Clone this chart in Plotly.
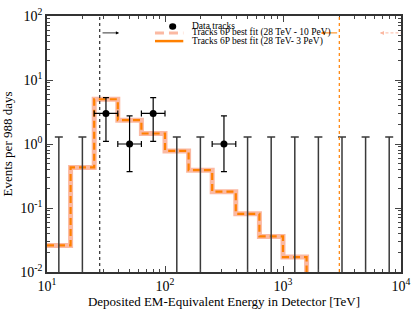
import math
import plotly.graph_objects as go

# histogram bin edges (log bins of 0.2 decade) and expected events per bin
bin_edges = [10, 15.85, 25.12, 39.81, 63.1, 100, 158.5, 251.2, 398.1, 631, 1000, 1585, 2512]
fit_10pev = [0.026, 0.43, 5.0, 2.36, 1.46, 0.78, 0.39, 0.18, 0.081, 0.036, 0.0171, 0.0075]
fit_3pev = [0.026, 0.43, 5.0, 2.36, 1.46, 0.78, 0.39, 0.18, 0.081, 0.036, 0.0171, 0.0070]

# observed data tracks
data_x = [31.6, 50.1, 79.4, 316]
data_xlo = [25.1, 39.8, 63.1, 251]
data_xhi = [39.8, 63.1, 100, 398]
data_y = [3, 1, 3, 1]
data_ylo = [1.1, 0.37, 1.1, 0.37]
data_yhi = [5.3, 2.75, 5.3, 2.75]

# upper limits in empty bins
ul_x = [12.6, 19.95, 125.9, 199.5, 501, 794, 1259, 1995, 3162, 5012, 7943]
ul_y = [1.29] * len(ul_x)

# energy thresholds
e_low = 28
e_cut = 3000

# tick labels
x_ticks = [10, 100, 1000, 10000]
x_ticktext = ['10<sup>1</sup>', '10<sup>2</sup>', '10<sup>3</sup>', '10<sup>4</sup>']
y_ticks = [0.01, 0.1, 1, 10, 100]
y_ticktext = ['10<sup>-2</sup>', '10<sup>-1</sup>', '10<sup>0</sup>', '10<sup>1</sup>', '10<sup>2</sup>']

serif = 'Liberation Serif'
fig = go.Figure()

def steps(vals):
    return bin_edges, vals + [vals[-1]]

sx, sy = steps(fit_10pev)
fig.add_trace(go.Scatter(x=sx, y=sy, mode='lines', line_shape='hv',
                         line=dict(color='#fbb9a2', width=5), showlegend=False))
sx, sy = steps(fit_3pev)
fig.add_trace(go.Scatter(x=sx, y=sy, mode='lines', line_shape='hv',
                         line=dict(color='#ff8000', width=2.2, dash='7px,4px'), showlegend=False))

# upper limits
fig.add_trace(go.Scatter(
    x=ul_x, y=ul_y, mode='markers', marker=dict(size=1, color='rgba(0,0,0,0)'),
    error_y=dict(type='data', symmetric=False, array=[0] * len(ul_x),
                 arrayminus=[v - 1e-4 for v in ul_y], color='#3a3a3a', thickness=1.5, width=4),
    showlegend=False))

# data points
fig.add_trace(go.Scatter(
    x=data_x, y=data_y, mode='markers', marker=dict(size=7, color='black'),
    error_x=dict(type='data', symmetric=False,
                 array=[h - x for h, x in zip(data_xhi, data_x)],
                 arrayminus=[x - l for l, x in zip(data_xlo, data_x)],
                 color='black', thickness=1.2, width=3),
    error_y=dict(type='data', symmetric=False,
                 array=[h - y for h, y in zip(data_yhi, data_y)],
                 arrayminus=[y - l for l, y in zip(data_ylo, data_y)],
                 color='black', thickness=1.2, width=3),
    showlegend=False))

# threshold lines
fig.add_shape(type='line', x0=e_low, x1=e_low, y0=0, y1=1, xref='x', yref='paper',
              line=dict(color='black', width=1, dash='dot'))
fig.add_shape(type='line', x0=e_cut, x1=e_cut, y0=0, y1=1, xref='x', yref='paper',
              line=dict(color='#ff8000', width=1.2, dash='dot'))

arrow_y = 0.934
fig.add_annotation(x=math.log10(40.8), y=arrow_y, xref='x', yref='paper', ax=-18, ay=0,
                   text='', showarrow=True, arrowhead=2, arrowsize=0.8, arrowwidth=0.8,
                   arrowcolor='black')
fig.add_annotation(x=math.log10(2085), y=arrow_y, xref='x', yref='paper', ax=18, ay=0,
                   text='', showarrow=True, arrowhead=2, arrowsize=0.8, arrowwidth=1,
                   arrowcolor='#ff8000')
fig.add_shape(type='line', x0=6700, x1=10000, y0=arrow_y, y1=arrow_y, xref='x', yref='paper',
              line=dict(color='#fbb9a2', width=1, dash='3px,2px'))
fig.add_annotation(x=math.log10(6640), y=arrow_y, xref='x', yref='paper', ax=5, ay=0,
                   text='', showarrow=True, arrowhead=2, arrowsize=0.8, arrowwidth=1,
                   arrowcolor='#fbb9a2')

# hand-made compact legend
fig.add_shape(type='circle', xref='paper', yref='paper', x0=0.345, x1=0.365, y0=0.946, y1=0.972,
              fillcolor='black', line=dict(width=0))
fig.add_shape(type='line', xref='paper', yref='paper', x0=0.305, x1=0.385, y0=0.934, y1=0.934,
              line=dict(color='#fbb9a2', width=3, dash='9px,5px'))
fig.add_shape(type='line', xref='paper', yref='paper', x0=0.305, x1=0.385, y0=0.902, y1=0.902,
              line=dict(color='#ff8000', width=2.5))
legend_txt = ['Data tracks', 'Tracks 6P best fit (28 TeV - 10 PeV)', 'Tracks 6P best fit (28 TeV- 3 PeV)']
for i, t in enumerate(legend_txt):
    fig.add_annotation(x=0.405, y=[0.962, 0.934, 0.902][i], xref='paper', yref='paper',
                       text=t, showarrow=False, xanchor='left', yanchor='middle',
                       font=dict(size=9.5, color='black', family=serif))

axis_common = dict(type='log', showgrid=False, automargin=False,
                   ticks='inside', ticklen=6, tickwidth=1, mirror='allticks',
                   showline=True, linecolor='#333', linewidth=1.5, zeroline=False,
                   tickfont=dict(size=14, color='black', family=serif),
                   minor=dict(dtick='D1', ticks='inside', ticklen=3, tickwidth=1, showgrid=False))

fig.update_xaxes(range=[1, 4], tickvals=x_ticks, ticktext=x_ticktext,
                 title=dict(text='Deposited EM-Equivalent Energy in Detector [TeV]',
                            font=dict(size=13, color='black', family=serif), standoff=4),
                 **axis_common)
fig.update_yaxes(range=[-2, 2], tickvals=y_ticks, ticktext=y_ticktext,
                 title=dict(text='Events per 988 days',
                            font=dict(size=13, color='black', family=serif), standoff=5),
                 **axis_common)

fig.update_layout(width=415, height=321, margin=dict(l=47, r=14, t=16, b=49),
                  plot_bgcolor='white', paper_bgcolor='white',
                  font=dict(family=serif, color='black'), showlegend=False)

fig.write_html("out.html", config={'displayModeBar': False},
               post_script="document.body.style.margin='0';")
